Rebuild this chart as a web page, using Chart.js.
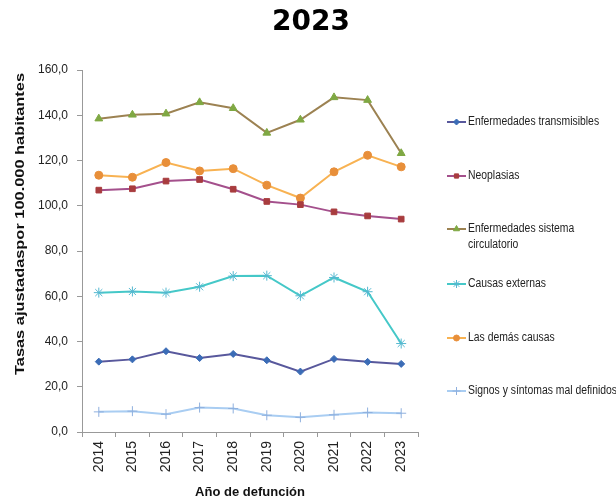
<!DOCTYPE html>
<html>
<head>
<meta charset="utf-8">
<script src="https://cdn.jsdelivr.net/npm/chart.js@4"></script>
<style>
  html, body { margin: 0; padding: 0; background: #fff; }
  #wrap { width: 616px; height: 502px; position: relative; }
</style>
</head>
<body>
<div id="wrap"><canvas id="chart" width="616" height="502"></canvas></div>
<script>
// Years on the x axis
const years = ['2014', '2015', '2016', '2017', '2018', '2019', '2020', '2021', '2022', '2023'];

// Series values (tasas ajustadas por 100.000 habitantes)
const transmisibles = [31.1, 32.1, 35.7, 32.7, 34.5, 31.7, 26.7, 32.3, 31.0, 30.1];
const neoplasias = [106.9, 107.5, 110.9, 111.6, 107.3, 101.9, 100.5, 97.3, 95.5, 94.1];
const circulatorio = [138.5, 140.2, 140.7, 145.7, 143.1, 132.2, 138.0, 147.9, 146.7, 123.2];
const externas = [61.6, 62.1, 61.6, 64.2, 68.9, 69.1, 60.2, 68.3, 62.0, 39.1];
const demas = [113.5, 112.6, 119.1, 115.4, 116.4, 109.1, 103.4, 115.0, 122.3, 117.2];
const signos = [8.9, 9.2, 7.9, 10.8, 10.4, 7.4, 6.5, 7.6, 8.6, 8.3];

// Legend labels (arrays = line breaks)
const seriesLabels = [
    'Enfermedades transmisibles',
    'Neoplasias',
    ['Enfermedades sistema', 'circulatorio'],
    'Causas externas',
    'Las demás causas',
    'Signos y síntomas mal definidos'
];

// Y axis tick values
const yTicks = [0, 20, 40, 60, 80, 100, 120, 140, 160];

const FONT = '"Liberation Sans", Arial, sans-serif';

function series(label, data, line, marker, style, radius) {
    return {
        label: label,
        data: data,
        borderColor: line,
        backgroundColor: marker,
        pointBackgroundColor: marker,
        pointBorderColor: marker,
        pointStyle: style,
        pointRadius: radius,
        pointBorderWidth: 1,
        borderWidth: 2,
        tension: 0
    };
}

// Title, y axis title and the legend on the right
const decorations = {
    id: 'decorations',
    afterDraw(chart) {
        const ctx = chart.ctx;
        ctx.save();
        ctx.fillStyle = '#000';
        ctx.font = 'bold 28px "DejaVu Sans", sans-serif';
        ctx.textAlign = 'center';
        ctx.textBaseline = 'alphabetic';
        ctx.fillText('2023', 311, 30);

        // y axis title, stretched along its length like the original
        const yTitle = 'Tasas ajustadaspor 100.000 habitantes';
        ctx.font = 'bold 13px ' + FONT;
        ctx.fillStyle = '#111';
        ctx.translate(20, 224);
        ctx.rotate(-Math.PI / 2);
        ctx.scale(302 / ctx.measureText(yTitle).width, 1);
        ctx.textBaseline = 'middle';
        ctx.fillText(yTitle, 0, 0);
        ctx.restore();

        const legendY = [122, 176, 229, 284, 338, 391];
        ctx.save();
        ctx.font = '10.4px ' + FONT;
        ctx.textAlign = 'left';
        ctx.textBaseline = 'middle';
        chart.data.datasets.forEach((ds, i) => {
            const y = legendY[i];
            ctx.strokeStyle = ds.borderColor;
            ctx.lineWidth = 2;
            ctx.beginPath();
            ctx.moveTo(447, y);
            ctx.lineTo(466, y);
            ctx.stroke();
            ctx.fillStyle = ds.pointBackgroundColor;
            ctx.strokeStyle = ds.pointBorderColor;
            ctx.lineWidth = 1;
            Chart.helpers.drawPoint(ctx, {
                pointStyle: ds.pointStyle,
                radius: Math.max(3, ds.pointRadius - 1),
                borderWidth: 1,
                rotation: 0
            }, 456.5, y);
            ctx.fillStyle = '#222';
            const lines = Array.isArray(ds.label) ? ds.label : [ds.label];
            lines.forEach((t, k) => {
                ctx.save();
                ctx.translate(468, y + k * 16);
                ctx.scale(1, 1.2);
                ctx.fillText(t, 0, 0);
                ctx.restore();
            });
        });
        ctx.restore();
    }
};

new Chart(document.getElementById('chart'), {
    type: 'line',
    data: {
        labels: years,
        datasets: [
            series(seriesLabels[0], transmisibles, '#58589c', '#3b6cb6', 'rectRot', 3.5),
            series(seriesLabels[1], neoplasias, '#a4508c', '#a83c3e', 'rect', 4),
            series(seriesLabels[2], circulatorio, '#9c8252', '#7fa843', 'triangle', 4.5),
            series(seriesLabels[3], externas, '#45c8c8', '#55b8d0', 'star', 5),
            series(seriesLabels[4], demas, '#f8b252', '#e88f3a', 'circle', 4),
            series(seriesLabels[5], signos, '#a9cdf2', '#8fb0de', 'cross', 5)
        ]
    },
    options: {
        responsive: false,
        animation: false,
        layout: { padding: { left: 0, top: 70, right: 198, bottom: 0 } },
        plugins: {
            legend: { display: false },
            title: { display: false },
            tooltip: { enabled: false }
        },
        scales: {
            y: {
                min: 0,
                max: 160,
                afterFit: (scale) => { scale.width = 82; },
                afterBuildTicks: (scale) => { scale.ticks = yTicks.map(v => ({ value: v })); },
                ticks: {
                    color: '#222',
                    font: { family: FONT, size: 12 },
                    padding: 9,
                    callback: (v) => v.toFixed(1).replace('.', ',')
                },
                grid: { drawOnChartArea: false, drawTicks: true, tickLength: 5, color: '#999' },
                border: { color: '#999', width: 1 }
            },
            x: {
                offset: true,
                afterFit: (scale) => { scale.height = 70; },
                ticks: {
                    color: '#222',
                    font: { family: FONT, size: 14 },
                    minRotation: 90,
                    maxRotation: 90,
                    padding: 4
                },
                grid: { offset: true, drawOnChartArea: false, drawTicks: true, tickLength: 5, color: '#999' },
                border: { color: '#999', width: 1 },
                title: {
                    display: true,
                    text: 'Año de defunción',
                    color: '#111',
                    font: { family: FONT, size: 13, weight: 'bold' },
                    padding: { top: 0, bottom: 2 }
                }
            }
        }
    },
    plugins: [decorations]
});
</script>
</body>
</html>
